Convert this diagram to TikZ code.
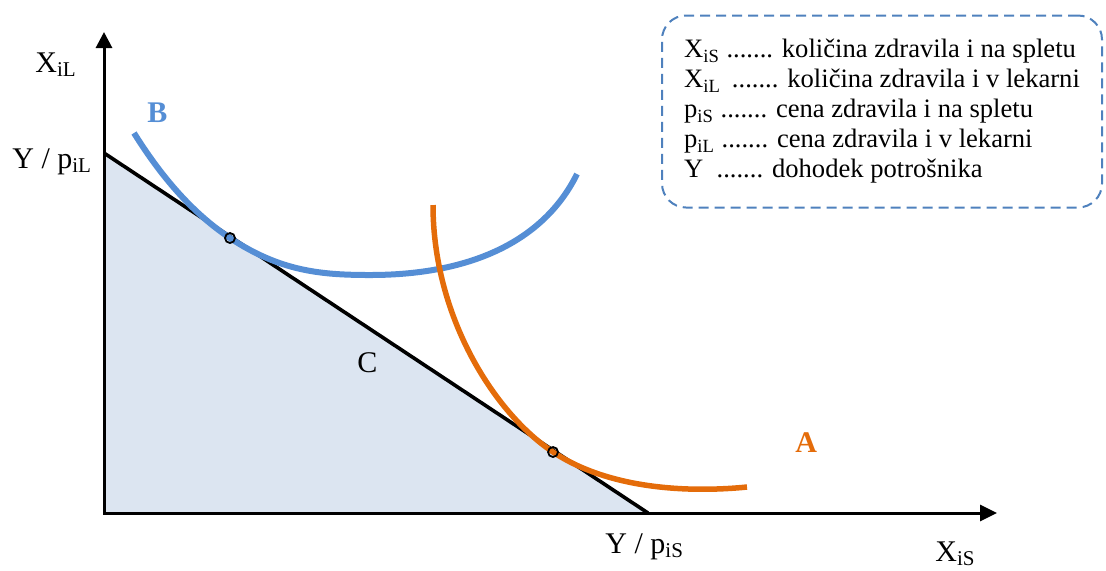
\documentclass[tikz,border=0pt]{standalone}
\usepackage{fontspec}
\setmainfont{Liberation Serif}
\usetikzlibrary{arrows.meta, positioning, calc}
\definecolor{setFill}{HTML}{DCE5F1}
\definecolor{curveBlue}{HTML}{558ED5}
\definecolor{curveOrange}{HTML}{E46C0A}
\definecolor{keyLine}{HTML}{4F81BD}

\begin{document}
\begin{tikzpicture}[
  x=0.5pt, y=0.5pt,
  axis/.style    ={draw=black, line width=1.5pt, {Triangle[length=8pt, width=8pt]}-{Triangle[length=8.5pt, width=8pt]}},
  budget/.style  ={draw=black, line width=1.8pt},
  curveB/.style  ={draw=curveBlue, line width=3pt},
  curveA/.style  ={draw=curveOrange, line width=2.75pt},
  touch/.style   ={circle, draw=black, line width=0.9pt, inner sep=0pt, minimum size=5pt},
  axlabel/.style ={font=\fontsize{15}{18}\selectfont, inner sep=0pt, anchor=base west},
  crvlabel/.style={axlabel, font=\fontsize{15}{18}\selectfont\bfseries},
  legend/.style  ={draw=keyLine, dash pattern=on 5pt off 3pt, line width=1pt, rounded corners=12pt,
                   minimum width=220pt, minimum height=96pt, align=left, inner sep=0pt,
                   font=\fontsize{13.3}{15}\selectfont},
]
\useasboundingbox (0,0) rectangle (1106,-570);
% ----- Axes and budget set -----
\coordinate (O)    at (104,-513);
\coordinate (ytip) at (104,-32);
\coordinate (xtip) at (997,-513);
\coordinate (yint) at (104,-153);
\coordinate (xint) at (648,-513);
\fill[setFill] (yint) -- (xint) -- (O) -- cycle;
\draw[axis] (ytip) -- (O) -- (xtip);
\draw[budget] (yint) -- (xint);
% ----- Indifference curves -----
\coordinate (tB) at (230,-238);
\coordinate (tA) at (553,-452);
\draw[curveB] (134,-133) .. controls (159,-173) and (190,-211.5) .. (tB)
  .. controls (280,-271) and (320,-275) .. (370,-275)
  .. controls (480,-275) and (547,-235) .. (577,-174);
\draw[curveA] (433,-205) .. controls (433,-315) and (493,-412) .. (tA)
  .. controls (613,-491.7) and (697,-492) .. (747,-487);
\node[touch] (pB) at (tB) {};
\node[touch] (pA) at (tA) {};
% ----- Labels -----
\node[axlabel] (lXiL) at (35,-72)   {X\textsubscript{iL}};
\node[axlabel] (lYL)  at (12,-168)  {Y / p\textsubscript{iL}};
\node[axlabel] (lYS)  at (605,-553) {Y / p\textsubscript{iS}};
\node[axlabel] (lXiS) at (935,-561) {X\textsubscript{iS}};
\node[axlabel] (lC)   at (357,-372) {C};
\node[crvlabel, text=curveBlue]   (lB) at (147,-122) {B};
\node[crvlabel, text=curveOrange] (lA) at (795,-452) {A};
% ----- Legend -----
\node[legend] (key) at (882,-111.5)
  {X\textsubscript{iS} ....... količina zdravila i na spletu\\
   X\textsubscript{iL} \,....... količina zdravila i v lekarni\\
   p\textsubscript{iS} ....... cena zdravila i na spletu\\
   p\textsubscript{iL} ....... cena zdravila i v lekarni\\
   Y \ ....... dohodek potrošnika};
\end{tikzpicture}
\end{document}
